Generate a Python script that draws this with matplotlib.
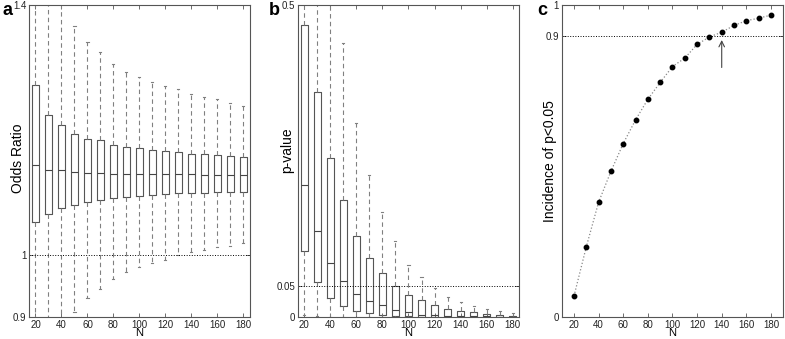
import numpy as np
import matplotlib
matplotlib.use("Agg")
import matplotlib.pyplot as plt

plt.rcParams['font.family'] = ['Liberation Sans', 'DejaVu Sans']

# sample sizes
n_values = [20, 30, 40, 50, 60, 70, 80, 90, 100, 110, 120, 130, 140, 150, 160, 170, 180]

# panel a: odds ratio box stats
or_whislo = [0.80, 0.85, 0.88, 0.908, 0.930, 0.945, 0.961, 0.972, 0.980, 0.986, 0.992,
             0.999, 1.005, 1.007, 1.012, 1.014, 1.019]
or_q1 = [1.053, 1.065, 1.075, 1.080, 1.084, 1.088, 1.090, 1.092, 1.094, 1.095, 1.097,
         1.098, 1.098, 1.098, 1.100, 1.100, 1.101]
or_med = [1.143, 1.135, 1.136, 1.132, 1.131, 1.131, 1.130, 1.130, 1.130, 1.129, 1.129,
          1.129, 1.129, 1.127, 1.127, 1.127, 1.128]
or_q3 = [1.272, 1.224, 1.208, 1.194, 1.186, 1.183, 1.176, 1.173, 1.171, 1.168, 1.166,
         1.165, 1.161, 1.161, 1.159, 1.158, 1.156]
or_whishi = [1.55, 1.48, 1.43, 1.366, 1.341, 1.325, 1.306, 1.293, 1.285, 1.276, 1.270,
             1.265, 1.257, 1.253, 1.249, 1.243, 1.238]

# panel b: p-value box stats
p_whislo = [0.003, 0.001, 0.0, 0.0, 0.0, 0.0, 0.0, 0.0, 0.0, 0.0, 0.0, 0.0, 0.0, 0.0, 0.0, 0.0, 0.0]
p_q1 = [0.106, 0.0555, 0.030, 0.0176, 0.0096, 0.006, 0.004, 0.002, 0.001, 0.0005, 0.0003,
        0.0002, 0.0001, 0.0001, 0.0, 0.0, 0.0]
p_med = [0.212, 0.1375, 0.087, 0.058, 0.0374, 0.0256, 0.0187, 0.0118, 0.0075, 0.0038, 0.003,
         0.002, 0.0015, 0.001, 0.0008, 0.0005, 0.0003]
p_q3 = [0.468, 0.360, 0.255, 0.187, 0.130, 0.0943, 0.070, 0.0496, 0.0347, 0.0267, 0.0198,
        0.0128, 0.0096, 0.0075, 0.0054, 0.0038, 0.0022]
p_whishi = [0.62, 0.58, 0.54, 0.440, 0.311, 0.228, 0.1685, 0.1215, 0.0838, 0.0646, 0.047,
            0.032, 0.0246, 0.018, 0.0128, 0.0096, 0.0064]

# panel c: incidence of p<0.05
incidence = [0.067, 0.225, 0.368, 0.467, 0.556, 0.632, 0.698, 0.752, 0.803, 0.830, 0.874,
             0.898, 0.913, 0.935, 0.950, 0.958, 0.968]

EDGE = '#555555'
WHISK = '#808080'


def make_stats(lo, q1, med, q3, hi):
    return [dict(whislo=a, q1=b, med=c, q3=d, whishi=e, fliers=[])
            for a, b, c, d, e in zip(lo, q1, med, q3, hi)]


def style_axes(ax, yticks, yticklabels, ylim):
    ax.set_xlim(15, 185)
    ax.set_ylim(*ylim)
    ax.set_xticks(range(20, 181, 20))
    ax.set_yticks(yticks)
    ax.set_yticklabels(yticklabels)
    ax.tick_params(direction='in', top=True, right=True, length=3, width=0.6,
                   color=EDGE, labelsize=7, pad=2, labelcolor='#222222')
    for sp in ax.spines.values():
        sp.set_color(EDGE)
        sp.set_linewidth(0.8)
    ax.set_xlabel('N', fontsize=8, labelpad=-1)


def draw_boxes(ax, stats):
    ax.bxp(stats, positions=n_values, widths=5.4, capwidths=1.6, showfliers=False,
           manage_ticks=False,
           boxprops=dict(color=EDGE, linewidth=0.8),
           medianprops=dict(color='#444444', linewidth=0.8),
           whiskerprops=dict(color=WHISK, linewidth=0.8, linestyle=(0, (4, 3))),
           capprops=dict(color=WHISK, linewidth=0.8))


fig = plt.figure(figsize=(7.85, 3.39), dpi=100)

# a
ax1 = fig.add_axes([0.0369, 0.0649, 0.2815, 0.920])
draw_boxes(ax1, make_stats(or_whislo, or_q1, or_med, or_q3, or_whishi))
ax1.axhline(1.0, color='black', linestyle=':', linewidth=0.7)
style_axes(ax1, [0.9, 1.0, 1.4], ['0.9', '1', '1.4'], (0.9, 1.4))
ax1.set_ylabel('Odds Ratio', fontsize=10)
ax1.yaxis.set_label_coords(-0.018, 0.51)

# b
ax2 = fig.add_axes([0.3792, 0.0649, 0.2823, 0.920])
draw_boxes(ax2, make_stats(p_whislo, p_q1, p_med, p_q3, p_whishi))
ax2.axhline(0.05, color='black', linestyle=':', linewidth=0.7)
style_axes(ax2, [0, 0.05, 0.5], ['0', '0.05', '0.5'], (0, 0.5))
ax2.set_ylabel('p-value', fontsize=10)
ax2.yaxis.set_label_coords(-0.014, 0.536)

# c
ax3 = fig.add_axes([0.7155, 0.0649, 0.2823, 0.920])
ax3.plot(n_values, incidence, linestyle=':', color='#888888', linewidth=0.9,
         marker='o', markersize=3.2, markerfacecolor='black', markeredgecolor='black')
ax3.axhline(0.9, color='black', linestyle=':', linewidth=0.7)
ax3.annotate('', xy=(140, 0.888), xytext=(140, 0.80),
             arrowprops=dict(arrowstyle='->', color='#444444', lw=0.8,
                             shrinkA=0, shrinkB=0))
style_axes(ax3, [0, 0.9, 1.0], ['0', '0.9', '1'], (0, 1))
ax3.set_xlim(10, 190)
ax3.set_ylabel('Incidence of p<0.05', fontsize=10)
ax3.yaxis.set_label_coords(-0.022, 0.5)

for x, letter in [(0.003, 'a'), (0.342, 'b'), (0.684, 'c')]:
    fig.text(x, 0.993, letter, fontsize=13, fontweight='bold', va='top', ha='left')

fig.savefig('out.png', dpi=100)
